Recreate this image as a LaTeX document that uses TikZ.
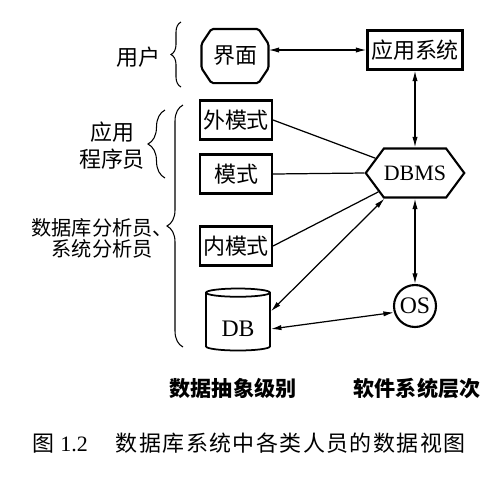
\documentclass[tikz,border=0pt]{standalone}
\usepackage{fontspec}
\setmainfont{Liberation Serif}
\newfontfamily\cjk{Noto Sans CJK SC}
\usetikzlibrary{shapes.geometric,shapes.symbols,arrows.meta,decorations.pathreplacing}

\begin{document}
\begin{tikzpicture}[x=0.02cm,y=-0.02cm]
\tikzset{boite/.style={draw, line width=1.2pt, minimum width=1.44cm, minimum height=0.78cm, inner sep=1pt, font=\cjk\fontsize{12.5}{15}\selectfont}}
\tikzset{fleche/.style={line width=0.7pt, {Latex[length=6pt,width=3pt]}-{Latex[length=6pt,width=3pt]}}}
\tikzset{trait/.style={line width=0.7pt}}
\tikzset{accolade/.style={decorate, decoration={brace, amplitude=#1}, line width=0.6pt}}
\tikzset{etiquette/.style={font=\cjk\fontsize{12.5}{15}\selectfont, align=center}}
\useasboundingbox (0,0) rectangle (500,485);
\node[boite, draw=none, minimum width=1.3cm, minimum height=1.04cm] (IF) at (235,56) {界面};
\draw[line width=1.2pt, rounded corners=1pt] ([xshift=0.2cm]IF.north west) -- ([xshift=-0.2cm]IF.north east) -- ([yshift=-0.3cm]IF.north east) -- ([yshift=0.3cm]IF.south east) -- ([xshift=-0.2cm]IF.south east) -- ([xshift=0.2cm]IF.south west) -- ([yshift=0.3cm]IF.south west) -- ([yshift=-0.3cm]IF.north west) -- cycle;
\node[boite, minimum width=1.9cm] (AS) at (415,50) {应用系统};
\node[boite] (EXT) at (236,120) {外模式};
\node[boite] (SCH) at (236,174) {模式};
\node[boite] (INT) at (236,246) {内模式};
\node[draw, line width=1.2pt, signal, signal to=east and west, signal pointer angle=107, minimum width=1.9cm, minimum height=0.98cm, inner sep=0pt, font=\fontsize{12.5}{14}\selectfont] (DBMS) at (415,173) {DBMS};
\node[draw, line width=1pt, cylinder, shape border rotate=90, aspect=0.25, minimum width=1.28cm, minimum height=1.24cm, inner sep=0pt, text height=17pt, text depth=0pt, font=\fontsize{13.5}{15}\selectfont] (DB) at (238,322) {DB};
\node[draw, line width=1.2pt, circle, minimum size=0.84cm, inner sep=0pt, font=\fontsize{13.5}{15}\selectfont] (OS) at (415,306) {OS};
\draw[fleche] (IF.east |- AS.west) -- (AS.west);
\draw[fleche] (AS.south) -- (DBMS.north);
\draw[trait] (EXT.east) -- (DBMS);
\draw[trait] (SCH.east) -- (DBMS.west);
\draw[trait] (INT.east) -- (DBMS);
\draw[fleche] (DBMS.220) -- (DB.18);
\draw[fleche] (DBMS.south) -- (OS.north);
\draw[fleche] (DB.-12) -- (OS.197);
\draw[accolade=0.2cm] (181,87) -- (181,22);
\draw[accolade=0.34cm] (165,178) -- (165,110);
\draw[accolade=0.32cm] (183,347) -- (183,105);
\node[etiquette] (U) at (138,57) {用户};
\node[etiquette, font=\cjk\fontsize{12.5}{15.3}\selectfont] (P) at (112,146) {应用\\程序员};
\node[etiquette, align=right, font=\cjk\fontsize{11.5}{12}\selectfont] (A) at (92,238) {数据库分析员\rlap{、}\\系统分析员};
\node[etiquette, font=\cjk\bfseries\fontsize{12}{14}\selectfont] (L1) at (233,388) {数据抽象级别};
\node[etiquette, font=\cjk\bfseries\fontsize{12}{14}\selectfont] (L2) at (417,388) {软件系统层次};
\node[anchor=west, inner sep=0pt, font=\fontsize{12.5}{15}\selectfont] (C) at (32,443) {{\cjk 图}\hspace{3.4pt}1.2\hspace{16pt}{\cjk\addfontfeature{LetterSpace=6.6}数据库系统中各类人员的数据视图}};
\end{tikzpicture}
\end{document}
